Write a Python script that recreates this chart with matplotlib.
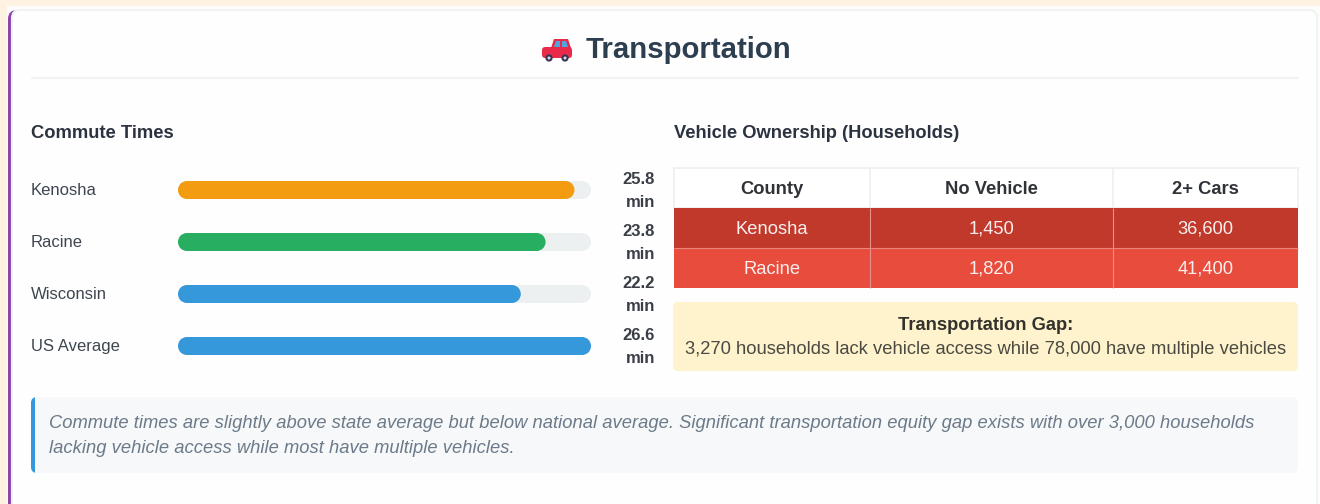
import matplotlib
matplotlib.use("Agg")
import matplotlib.pyplot as plt
from matplotlib.patches import FancyBboxPatch, Rectangle, Circle, Polygon, Ellipse

plt.rcParams['font.family'] = ['Liberation Sans', 'DejaVu Sans']

title = "Transportation"
left_title = "Commute Times"
right_title = "Vehicle Ownership (Households)"
regions = ["Kenosha", "Racine", "Wisconsin", "US Average"]
commute_minutes = ["25.8", "23.8", "22.2", "26.6"]
fill_percent = [96, 89, 83, 100]
bar_colors = ["#f39c12", "#27ae60", "#3498db", "#3498db"]
table_header = ["County", "No Vehicle", "2+ Cars"]
table_rows = [["Kenosha", "1,450", "36,600"], ["Racine", "1,820", "41,400"]]
row_colors = ["#c0392b", "#e74c3c"]
gap_title = "Transportation Gap:"
gap_text = "3,270 households lack vehicle access while 78,000 have multiple vehicles"
note_lines = ["Commute times are slightly above state average but below national average. Significant transportation equity gap exists with over 3,000 households",
              "lacking vehicle access while most have multiple vehicles."]

W, H = 1320, 504
fig = plt.figure(figsize=(W / 100, H / 100), dpi=100, facecolor="#fffdfb")
ax = fig.add_axes([0, 0, 1, 1])
ax.set_xlim(0, W)
ax.set_ylim(H, 0)
ax.axis("off")


def rbox(a, x0, y0, x1, y1, r, **kw):
    p = FancyBboxPatch((x0, y0), x1 - x0, y1 - y0,
                       boxstyle=f"round,pad=0,rounding_size={r}", **kw)
    a.add_patch(p)
    return p


# page and card
ax.add_patch(Rectangle((0, 0), W, 6, fc="#fef3e3", ec="none", zorder=0))
ax.add_patch(Rectangle((0, 0), 7, H, fc="#fef3e3", ec="none", zorder=0))
rbox(ax, 8, 10, 1317, 520, 9, fc="#8e44ad", ec="none", zorder=1)
rbox(ax, 12, 10, 1317, 520, 8, fc="#fefefe", ec="#f0f3f4", lw=1.5, zorder=2)

# header
ax.text(586, 49.5, title, fontsize=21.2, fontweight="bold", color="#2c3e50",
        ha="left", va="center", zorder=5)
ax.add_patch(Rectangle((31, 76.5), 1268, 2, fc="#f1f4f5", ec="none", zorder=3))

# car icon
ax.add_patch(Polygon([(551, 48), (554, 39), (568, 39), (571, 48)], fc="#e8294a", ec="none", zorder=5))
rbox(ax, 542, 47, 572, 58, 3, fc="#e8294a", ec="none", zorder=5)
ax.add_patch(Polygon([(554, 47), (556, 41), (560, 41), (560, 47)], fc="#4aa8e0", ec="none", zorder=6))
ax.add_patch(Polygon([(562, 47), (562, 41), (566, 41), (568, 47)], fc="#4aa8e0", ec="none", zorder=6))
for cx in (549, 565):
    ax.add_patch(Circle((cx, 58), 3.6, fc="#3b3355", ec="none", zorder=6))
    ax.add_patch(Circle((cx, 58), 1.5, fc="#d8d8e0", ec="none", zorder=7))

# section titles
ax.text(31, 133, left_title, fontsize=13.2, fontweight="bold", color="#2c3340", va="center", zorder=5)
ax.text(674, 134, right_title, fontsize=13.25, fontweight="bold", color="#2c3340", va="center", zorder=5)

# commute bars
track_x0, track_x1 = 178, 591
y_top, y_bot = 160, 372
bax = fig.add_axes([track_x0 / W, 1 - y_bot / H, (track_x1 - track_x0) / W, (y_bot - y_top) / H])
bax.set_xlim(0, 100)
bax.set_ylim(y_bot, y_top)
bax.axis("off")
bax.patch.set_alpha(0)
px_per_unit = (track_x1 - track_x0) / 100
bar_h = 18
rx = (bar_h / 2) / px_per_unit


def pill(a, v, yc, color, z):
    a.add_patch(Rectangle((rx, yc - bar_h / 2), v - 2 * rx, bar_h, fc=color, ec="none", zorder=z, clip_on=False))
    for cx in (rx, v - rx):
        a.add_patch(Ellipse((cx, yc), 2 * rx, bar_h, fc=color, ec="none", zorder=z, clip_on=False))


for i, (name, mins, pct, col) in enumerate(zip(regions, commute_minutes, fill_percent, bar_colors)):
    yc = 190 + i * 52
    ax.text(31, yc + 5, name, fontsize=12, color="#3d4650", va="baseline", zorder=5)
    pill(bax, 100, yc, "#ecf0f1", 2)
    pill(bax, pct, yc, col, 3)
    ax.text(655, yc - 6.5, mins, fontsize=12, fontweight="bold", color="#3a3f47", ha="right", va="baseline", zorder=5)
    ax.text(655, yc + 17, "min", fontsize=12, fontweight="bold", color="#3a3f47", ha="right", va="baseline", zorder=5)

# table
col_x = [674, 870, 1113, 1298]
row_y = [168, 208, 248, 288]
ax.add_patch(Rectangle((col_x[0], row_y[0]), col_x[-1] - col_x[0], 40, fc="#ffffff", ec="#eceff1", lw=1.2, zorder=3))
for j, head in enumerate(table_header):
    ax.text((col_x[j] + col_x[j + 1]) / 2, 194, head, fontsize=13.2, fontweight="bold",
            color="#2f3338", ha="center", va="baseline", zorder=5)
    if j:
        ax.plot([col_x[j]] * 2, [row_y[0], row_y[1]], color="#eceff1", lw=1.2, zorder=4, solid_capstyle="butt")
for i, row in enumerate(table_rows):
    ax.add_patch(Rectangle((col_x[0], row_y[i + 1]), col_x[-1] - col_x[0], 40, fc=row_colors[i], ec="none", zorder=3))
    for j, cell in enumerate(row):
        ax.text((col_x[j] + col_x[j + 1]) / 2, row_y[i + 1] + 26, cell, fontsize=13.2,
                color="#fbeeee", ha="center", va="baseline", zorder=5)
        if j:
            ax.plot([col_x[j]] * 2, [row_y[i + 1], row_y[i + 2]], color="#e9908a", lw=0.8, zorder=4, solid_capstyle="butt")
ax.plot([col_x[0], col_x[-1]], [248, 248], color="#e9857a", lw=0.8, zorder=4, solid_capstyle="butt")

# gap callout
rbox(ax, 673, 302, 1298, 371, 5, fc="#fef3cd", ec="none", zorder=3)
ax.text(985.5, 329.5, gap_title, fontsize=13.2, fontweight="bold", color="#33322c", ha="center", va="baseline", zorder=5)
ax.text(985.5, 354, gap_text, fontsize=13.2, color="#4a4a42", ha="center", va="baseline", zorder=5)

# note
rbox(ax, 31, 397, 60, 473, 6, fc="#3498db", ec="none", zorder=3)
ax.add_patch(Rectangle((35, 397), 40, 76, fc="#f6f8f9", ec="none", zorder=4))
rbox(ax, 40, 397, 1298, 473, 6, fc="#f6f8f9", ec="none", zorder=4)
ax.text(49, 428, note_lines[0], fontsize=13.2, fontstyle="italic", color="#6c7a89", va="baseline", zorder=5)
ax.text(49, 453, note_lines[1], fontsize=13.2, fontstyle="italic", color="#6c7a89", va="baseline", zorder=5)

fig.savefig("out.png", dpi=100, facecolor=fig.get_facecolor())
